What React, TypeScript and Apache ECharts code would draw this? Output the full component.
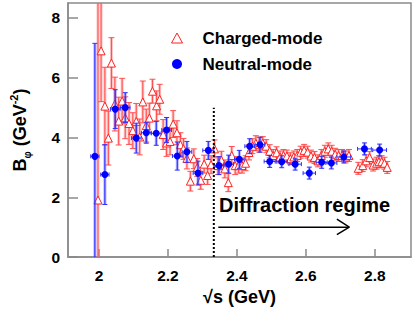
import React, { useEffect, useRef } from "react";
import * as echarts from "echarts";

const FONT = '"Liberation Sans", Arial, Helvetica, sans-serif';

// Charged-mode (red open triangles)
const chargedX = [1.997, 2.006, 2.017, 2.027, 2.036, 2.046, 2.057, 2.067, 2.076, 2.087, 2.098, 2.108, 2.118, 2.127, 2.137, 2.146, 2.155, 2.167, 2.176, 2.186, 2.196, 2.206, 2.215, 2.226, 2.236, 2.245, 2.255, 2.265, 2.275, 2.285, 2.295, 2.305, 2.315, 2.325, 2.335, 2.345, 2.355, 2.365, 2.375, 2.385, 2.395, 2.405, 2.415, 2.425, 2.435, 2.445, 2.455, 2.465, 2.475, 2.485, 2.495, 2.505, 2.515, 2.525, 2.535, 2.545, 2.555, 2.565, 2.575, 2.585, 2.595, 2.605, 2.615, 2.625, 2.635, 2.645, 2.655, 2.665, 2.675, 2.685, 2.695, 2.705, 2.715, 2.725, 2.752, 2.765, 2.775, 2.785, 2.795, 2.805, 2.812, 2.82, 2.828, 2.836];
const chargedY = [1.91, 6.9, 5.05, 3.98, 6.49, 5.12, 4.55, 5.22, 4.66, 4.47, 4.23, 4.54, 4.02, 5.19, 4.4, 4.65, 5.55, 5.06, 5.28, 4.1, 3.82, 3.87, 4.45, 4.16, 3.76, 3.62, 3.3, 2.54, 3.29, 3.0, 2.57, 3.11, 2.73, 3.09, 3.62, 3.06, 3.24, 2.95, 2.49, 3.4, 3.06, 3.06, 3.06, 3.14, 3.5, 3.71, 3.81, 3.76, 3.81, 3.71, 3.54, 3.4, 3.49, 3.35, 3.4, 3.38, 3.29, 3.35, 3.4, 3.51, 3.57, 3.51, 3.38, 3.33, 3.22, 3.4, 3.54, 3.62, 3.54, 3.44, 3.4, 3.4, 3.35, 3.4, 2.97, 3.06, 3.22, 3.33, 3.08, 3.14, 3.19, 3.19, 3.14, 3.0];
const chargedErr = [7.0, 1.7, 1.3, 0.9, 0.85, 0.9, 0.8, 0.76, 0.7, 0.7, 0.6, 0.6, 0.6, 0.7, 0.55, 0.5, 0.4, 0.5, 0.5, 0.5, 0.45, 0.45, 0.45, 0.4, 0.4, 0.35, 0.35, 0.33, 0.33, 0.3, 0.3, 0.3, 0.3, 0.3, 0.3, 0.3, 0.3, 0.3, 0.3, 0.3, 0.3, 0.25, 0.25, 0.25, 0.25, 0.25, 0.25, 0.25, 0.22, 0.22, 0.22, 0.2, 0.2, 0.2, 0.2, 0.2, 0.2, 0.2, 0.2, 0.2, 0.2, 0.2, 0.2, 0.2, 0.2, 0.2, 0.2, 0.2, 0.2, 0.2, 0.2, 0.2, 0.2, 0.2, 0.2, 0.2, 0.2, 0.2, 0.2, 0.2, 0.2, 0.2, 0.2, 0.2];

// Neutral-mode (blue filled circles)
const neutralX = [1.988, 2.017, 2.047, 2.076, 2.108, 2.137, 2.166, 2.196, 2.227, 2.255, 2.287, 2.317, 2.348, 2.376, 2.407, 2.437, 2.467, 2.495, 2.53, 2.569, 2.61, 2.646, 2.674, 2.71, 2.77, 2.814];
const neutralY = [3.37, 2.76, 4.95, 5.0, 3.98, 4.16, 4.14, 4.25, 3.38, 3.52, 2.81, 3.57, 3.06, 3.11, 3.27, 3.71, 3.76, 3.2, 3.19, 3.11, 2.81, 3.17, 3.15, 3.35, 3.62, 3.58];
const neutralErrY = [3.78, 1.0, 0.65, 0.5, 0.5, 0.35, 0.4, 0.42, 0.47, 0.35, 0.4, 0.3, 0.3, 0.3, 0.3, 0.25, 0.25, 0.2, 0.2, 0.2, 0.2, 0.2, 0.2, 0.2, 0.2, 0.2];
const neutralErrX = [0.012, 0.012, 0.014, 0.014, 0.014, 0.014, 0.014, 0.014, 0.014, 0.014, 0.014, 0.016, 0.014, 0.014, 0.014, 0.014, 0.014, 0.016, 0.016, 0.018, 0.018, 0.016, 0.016, 0.02, 0.02, 0.02];

// Annotations (data coordinates)
const dividerLine = [[2.333, 0], [2.333, 5.0]];
const arrowShaft = [[2.346, 1.0], [2.726, 1.0]];
const arrowHead = [[2.69, 1.27], [2.726, 1.0], [2.69, 0.75]];

export default function App() {
  const ref = useRef<HTMLDivElement>(null);
  useEffect(() => {
    const chart = echarts.init(ref.current!, null, { renderer: "svg" });
    const chargedData = chargedX.map((x, i) => [x, chargedY[i], chargedErr[i]]);
    const neutralData = neutralX.map((x, i) => [x, neutralY[i], neutralErrY[i], neutralErrX[i]]);

    const clampY = (y: number, cs: any) => Math.max(cs.y, Math.min(cs.y + cs.height, y));

    const renderCharged = (params: any, api: any) => {
      const x = api.value(0), y = api.value(1), e = api.value(2);
      const cs = params.coordSys;
      const top = api.coord([x, y + e]);
      const bot = api.coord([x, y - e]);
      const px = top[0];
      const yT = clampY(top[1], cs), yB = clampY(bot[1], cs);
      const children: any[] = [
        { type: "line", shape: { x1: px, y1: yT, x2: px, y2: yB }, style: { stroke: "rgba(255,120,120,0.45)", lineWidth: 3 } },
        { type: "line", shape: { x1: px, y1: yT, x2: px, y2: yB }, style: { stroke: "#ff4a4a", lineWidth: 1 } },
      ];
      if (top[1] >= cs.y) children.push({ type: "line", shape: { x1: px - 3, y1: yT, x2: px + 3, y2: yT }, style: { stroke: "#ff5050", lineWidth: 1 } });
      if (bot[1] <= cs.y + cs.height) children.push({ type: "line", shape: { x1: px - 3, y1: yB, x2: px + 3, y2: yB }, style: { stroke: "#ff5050", lineWidth: 1 } });
      return { type: "group", children };
    };

    const renderNeutral = (params: any, api: any) => {
      const x = api.value(0), y = api.value(1), ey = api.value(2), ex = api.value(3);
      const cs = params.coordSys;
      const top = api.coord([x, y + ey]);
      const bot = api.coord([x, y - ey]);
      const left = api.coord([x - ex, y]);
      const right = api.coord([x + ex, y]);
      const px = top[0];
      const py = left[1];
      const yT = clampY(top[1], cs), yB = clampY(bot[1], cs);
      const children: any[] = [
        { type: "line", shape: { x1: px, y1: yT, x2: px, y2: yB }, style: { stroke: "rgba(90,90,255,0.45)", lineWidth: 3 } },
        { type: "line", shape: { x1: px, y1: yT, x2: px, y2: yB }, style: { stroke: "#2020ff", lineWidth: 1 } },
        { type: "line", shape: { x1: left[0], y1: py, x2: right[0], y2: py }, style: { stroke: "#3030ff", lineWidth: 1 } },
        { type: "line", shape: { x1: left[0], y1: py - 2, x2: left[0], y2: py + 2 }, style: { stroke: "#3030ff", lineWidth: 1 } },
        { type: "line", shape: { x1: right[0], y1: py - 2, x2: right[0], y2: py + 2 }, style: { stroke: "#3030ff", lineWidth: 1 } },
      ];
      if (top[1] >= cs.y) children.push({ type: "line", shape: { x1: px - 2.5, y1: yT, x2: px + 2.5, y2: yT }, style: { stroke: "#3030ff", lineWidth: 1 } });
      if (bot[1] <= cs.y + cs.height) children.push({ type: "line", shape: { x1: px - 2.5, y1: yB, x2: px + 2.5, y2: yB }, style: { stroke: "#3030ff", lineWidth: 1 } });
      return { type: "group", children };
    };

    const axisLabelStyle = { fontFamily: FONT, fontWeight: "bold" as const, fontSize: 15.5, color: "#000" };

    chart.setOption({
      animation: false,
      backgroundColor: "#fff",
      grid: { left: 62, right: 4, top: 3, bottom: 47, show: true, borderColor: "#8a8a8a", borderWidth: 1.5, backgroundColor: "transparent" },
      legend: {
        orient: "vertical",
        left: 166,
        top: 23,
        itemWidth: 11,
        itemHeight: 10,
        itemGap: 6,
        selectedMode: false,
        textStyle: { fontFamily: FONT, fontWeight: "bold", fontSize: 17, color: "#000", padding: [0, 0, 0, 15], lineHeight: 20 },
        data: [
          { name: "Charged-mode", icon: "triangle", itemStyle: { color: "#fff", borderColor: "#ff2020", borderWidth: 1 } },
          { name: "Neutral-mode", icon: "circle", itemStyle: { color: "#0000ff" } },
        ],
      },
      xAxis: {
        type: "value",
        min: 1.91,
        max: 2.905,
        splitNumber: 5,
        name: "√s (GeV)",
        nameLocation: "middle",
        nameGap: 26,
        nameTextStyle: { fontFamily: FONT, fontWeight: "bold", fontSize: 18, color: "#000" },
        axisLine: { show: true, lineStyle: { color: "#8a8a8a", width: 1.5 } },
        axisTick: { show: true, inside: true, length: 8, lineStyle: { color: "#8a8a8a", width: 1.5 } },
        axisLabel: { ...axisLabelStyle, margin: 10, showMinLabel: false, showMaxLabel: false },
        splitLine: { show: false },
      },
      yAxis: {
        type: "value",
        min: 0,
        max: 8.5,
        interval: 2,
        name: "{b|B}{sub|φ}{t| (GeV}{sup|-2}{t|)}",
        nameLocation: "middle",
        nameRotate: 90,
        nameGap: 36,
        nameTextStyle: {
          fontFamily: FONT,
          fontWeight: "bold",
          fontSize: 18,
          color: "#000",
          rich: {
            b: { fontFamily: FONT, fontWeight: "bold", fontSize: 18, lineHeight: 24, color: "#000" },
            t: { fontFamily: FONT, fontWeight: "bold", fontSize: 18, lineHeight: 24, color: "#000" },
            sub: { fontFamily: FONT, fontWeight: "bold", fontSize: 10, color: "#000", verticalAlign: "bottom" },
            sup: { fontFamily: FONT, fontWeight: "bold", fontSize: 11, color: "#000", verticalAlign: "top" },
          },
        },
        axisLine: { show: true, lineStyle: { color: "#8a8a8a", width: 1.5 } },
        axisTick: { show: true, inside: true, length: 10, lineStyle: { color: "#8a8a8a", width: 1.5 } },
        axisLabel: { ...axisLabelStyle, margin: 8, showMaxLabel: false },
        splitLine: { show: false },
      },
      series: [
        {
          name: "charged-err",
          type: "custom",
          renderItem: renderCharged,
          data: chargedData,
          encode: { x: 0, y: 1 },
          z: 2,
          silent: true,
        },
        {
          name: "Charged-mode",
          type: "scatter",
          data: chargedData.map((d) => [d[0], d[1]]),
          symbol: "triangle",
          symbolSize: 8,
          itemStyle: { color: "#fff", borderColor: "#ff2020", borderWidth: 1, opacity: 1 },
          z: 3,
        },
        {
          name: "neutral-err",
          type: "custom",
          renderItem: renderNeutral,
          data: neutralData,
          encode: { x: 0, y: 1 },
          z: 4,
          silent: true,
        },
        {
          name: "Neutral-mode",
          type: "scatter",
          data: neutralData.map((d) => [d[0], d[1]]),
          symbol: "circle",
          symbolSize: 7,
          itemStyle: { color: "#0000ff", opacity: 1 },
          z: 5,
        },
        {
          name: "divider",
          type: "line",
          data: dividerLine,
          symbol: "none",
          lineStyle: { color: "#000", width: 2, type: [2, 2] },
          z: 6,
          silent: true,
        },
        {
          name: "arrow-shaft",
          type: "line",
          data: arrowShaft,
          symbol: "none",
          lineStyle: { color: "#000", width: 1.5 },
          z: 6,
          silent: true,
        },
        {
          name: "arrow-head",
          type: "line",
          data: arrowHead,
          symbol: "none",
          lineStyle: { color: "#000", width: 1.5 },
          z: 6,
          silent: true,
        },
      ],
      graphic: [
        {
          type: "text",
          left: 219,
          top: 195,
          style: { text: "Diffraction regime", fontFamily: FONT, fontWeight: "bold", fontSize: 20, fill: "#000" },
          z: 10,
        },
      ],
    });
    return () => chart.dispose();
  }, []);
  return <div ref={ref} style={{ position: "absolute", left: 0, top: 0, width: 415, height: 311 }} />;
}
